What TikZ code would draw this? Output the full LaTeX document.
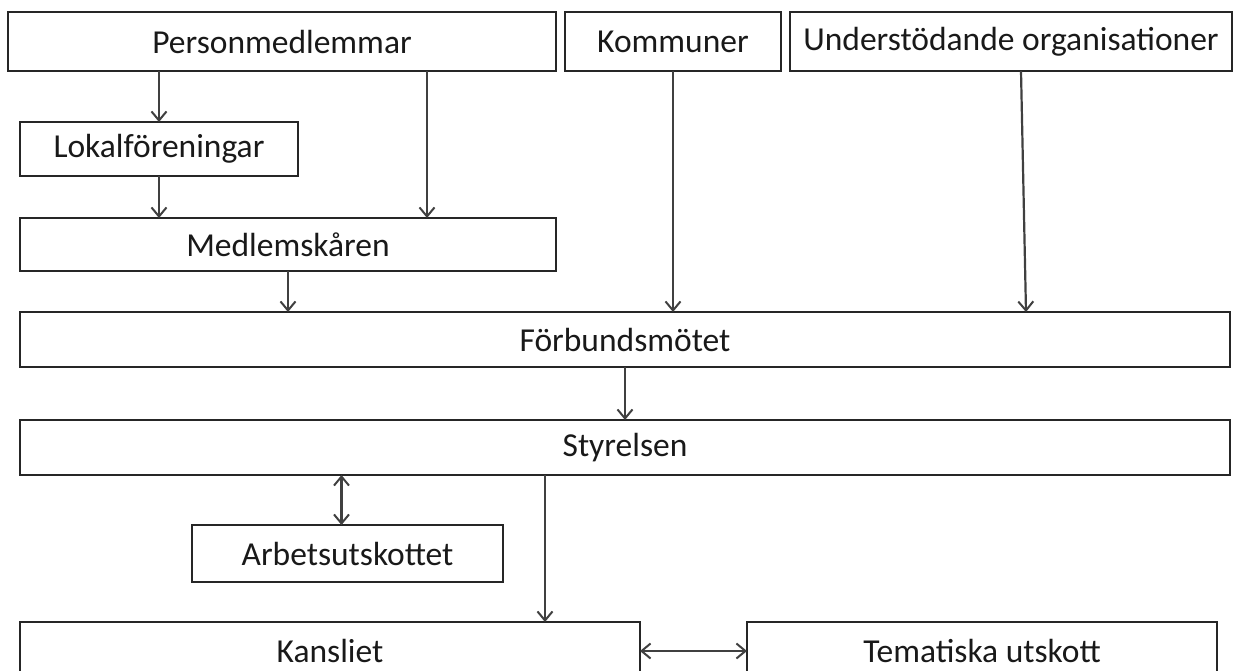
\documentclass[tikz,border=0pt]{standalone}
\usepackage{fontspec}
\setmainfont{Carlito}
\usetikzlibrary{arrows.meta}
\begin{document}
\begin{tikzpicture}[x=1pt,y=1pt,
  box/.style={draw=black!85, line width=2.7pt, rectangle, inner sep=0pt, outer sep=0pt,
    font=\fontsize{33.5}{36}\selectfont, text=black!90},
  tip/.style={Straight Barb[length=9pt,width=15pt,line width=2pt]},
  arr/.style={draw=black!75, line width=2.2pt, -{Straight Barb[length=9pt,width=15pt,line width=2pt]}},
  darr/.style={draw=black!75, line width=2.2pt, {Straight Barb[length=9pt,width=15pt,line width=2pt]}-{Straight Barb[length=9pt,width=15pt,line width=2pt]}}]
\useasboundingbox (0,0) rectangle (1242,-670);
\node[box, minimum width=548, minimum height=59] (pm) at (282,-41.5) {Personmedlemmar};
\node[box, minimum width=216, minimum height=59] (km) at (673,-41.5) {Kommuner};
\node[box, minimum width=442, minimum height=59] (uo) at (1011,-41.5) {Understödande organisationer};
\node[box, minimum width=278, minimum height=54] (lf) at (159,-149) {Lokalföreningar};
\node[box, minimum width=536, minimum height=53] (mk) at (288,-244.5) {Medlemskåren};
\node[box, minimum width=1210, minimum height=55] (fm) at (625,-339.5) {Förbundsmötet};
\node[box, minimum width=1210, minimum height=55] (st) at (625,-447.5) {Styrelsen};
\node[box, minimum width=311, minimum height=57] (au) at (347.5,-553.5) {Arbetsutskottet};
\node[box, minimum width=620, minimum height=58] (ka) at (330,-651) {Kansliet};
\node[box, minimum width=470, minimum height=58] (tu) at (982,-651) {Tematiska utskott};
% connectors
\draw[arr] (lf.north |- pm.south) -- (lf.north);
\draw[arr] (lf.south) -- (lf.south |- mk.north);
\draw[arr] ([xshift=145pt]pm.south) -- ([xshift=145pt]pm.south |- mk.north);
\draw[arr] (mk.south) -- (mk.south |- fm.north);
\draw[arr] (km.south) -- (km.south |- fm.north);
\draw[arr] ([xshift=10pt]uo.south) -- ([xshift=15pt]uo.south |- fm.north);
\draw[arr] (fm.south) -- (st.north);
\draw[darr] ([xshift=-6pt]au.north |- st.south) -- ([xshift=-6pt]au.north);
\draw[arr] ([xshift=215pt]ka.north |- st.south) -- ([xshift=215pt]ka.north);
\draw[darr] (ka.east) -- (tu.west);
\end{tikzpicture}
\end{document}
